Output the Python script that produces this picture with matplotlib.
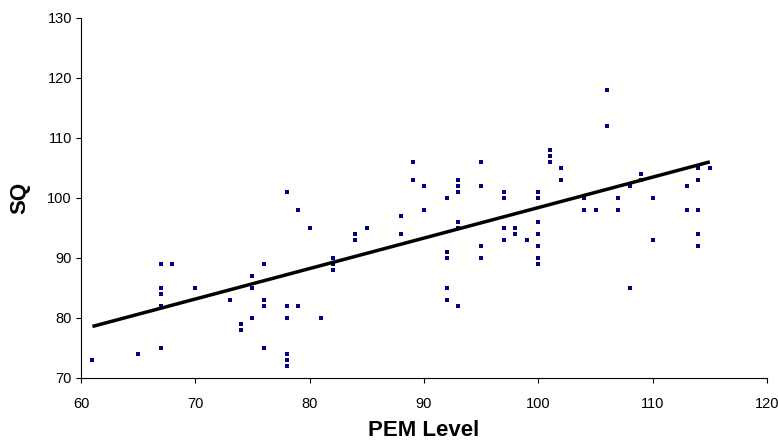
import matplotlib

matplotlib.use("Agg")
import matplotlib.pyplot as plt


# PEM level vs SQ
pem = [61, 65, 67, 67, 67, 67, 67, 68, 70, 73, 74, 74, 75, 75, 75, 76, 76, 76, 76,
       78, 78, 78, 78, 78, 78, 79, 79, 80, 81, 82, 82, 82, 84, 84, 85, 88, 88, 89, 89,
       90, 90, 92, 92, 92, 92, 92, 93, 93, 93, 93, 93, 93, 95, 95, 95, 95, 97, 97, 97,
       97, 98, 98, 99, 100, 100, 100, 100, 100, 100, 100, 101, 101, 101, 102, 102,
       104, 104, 105, 106, 106, 107, 107, 108, 108, 109, 109, 110, 110, 113, 113,
       114, 114, 114, 114, 114, 115]
sq = [73, 74, 89, 85, 84, 82, 75, 89, 85, 83, 79, 78, 87, 85, 80, 89, 83, 82, 75,
      101, 82, 80, 74, 73, 72, 98, 82, 95, 80, 90, 89, 88, 94, 93, 95, 97, 94, 106, 103,
      102, 98, 100, 91, 90, 85, 83, 103, 102, 101, 96, 95, 82, 106, 102, 92, 90, 101, 100, 95,
      93, 95, 94, 93, 101, 100, 96, 94, 92, 90, 89, 108, 107, 106, 105, 103,
      100, 98, 98, 118, 112, 100, 98, 102, 85, 104, 103, 100, 93, 102, 98,
      105, 103, 98, 94, 92, 105]

# trend line as drawn in the reference
fit_x = [61, 115]
fit_slope = 0.508
fit_intercept = 47.6

x_ticks = [60, 70, 80, 90, 100, 110, 120]
y_ticks = [70, 80, 90, 100, 110, 120, 130]

plt.rcParams["font.family"] = ["Liberation Sans", "DejaVu Sans"]

fig = plt.figure(figsize=(7.78, 4.41), dpi=100)
ax = fig.add_axes([0.1041, 0.1429, 0.8818, 0.8163])

ax.scatter(pem, sq, marker="s", s=12.5, color="#000080", linewidths=0, zorder=2)
fit_y = [fit_intercept + fit_slope * v for v in fit_x]
ax.plot(fit_x, fit_y, color="black", linewidth=2.5, solid_capstyle="butt", zorder=3)

ax.set_xlim(60, 120)
ax.set_ylim(70, 130)
ax.set_xticks(x_ticks)
ax.set_yticks(y_ticks)
ax.tick_params(direction="out", length=3.5, width=0.8, labelsize=10.5, colors="black")
ax.tick_params(axis="x", pad=10)
ax.tick_params(axis="y", pad=3)
for side in ("top", "right"):
    ax.spines[side].set_visible(False)
for side in ("left", "bottom"):
    ax.spines[side].set_linewidth(0.8)

ax.set_xlabel("PEM Level", fontsize=16, fontweight="bold")
ax.xaxis.set_label_coords(0.5, -0.118)
ax.set_ylabel("SQ", fontsize=16, fontweight="bold", labelpad=12)

fig.savefig("out.png", dpi=100)
